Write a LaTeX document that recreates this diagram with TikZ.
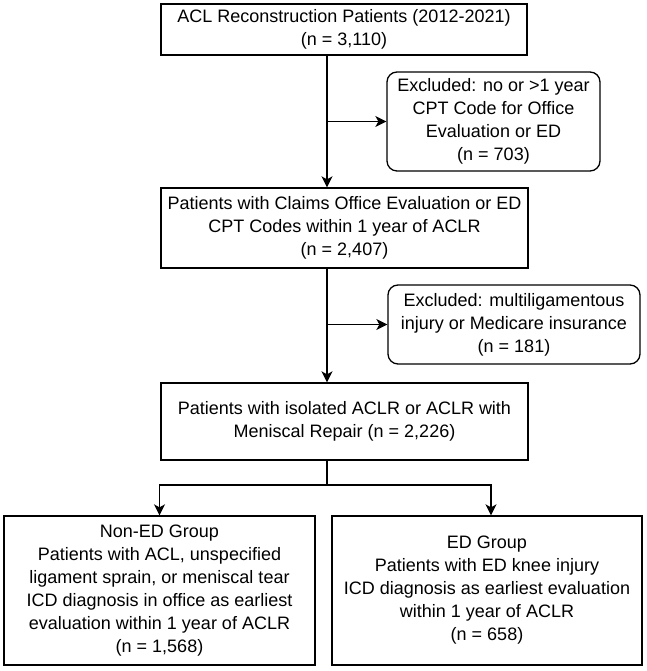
\documentclass[tikz,border=0pt]{standalone}
\usepackage{fontspec}
\setmainfont{Liberation Sans}
\usetikzlibrary{arrows.meta}

\begin{document}
\begin{tikzpicture}[x=1pt,y=1pt,
   box/.style={draw,line width=1.3pt,align=center,inner sep=0pt,
     font=\fontsize{18}{23}\selectfont},
   excl/.style={box,rounded corners=10pt},
   freccia/.style={line width=1.3pt,-{Stealth[length=11pt,width=11pt,inset=3pt]}}]
\useasboundingbox (0,0) rectangle (646,671);
% riquadri principali
   \node[box,minimum width=366,minimum height=51] (tot) at (344,641.5)
   {ACL Reconstruction Patients (2012-2021)\\(n = 3,110)};
   \node[box,minimum width=367,minimum height=80] (cpt) at (344.5,443)
   {Patients with Claims Office Evaluation or ED\\CPT Codes within 1 year of ACLR\\(n = 2,407)};
   \node[box,minimum width=367,minimum height=77] (iso) at (344.5,249.5)
   {Patients with isolated ACLR or ACLR with\\Meniscal Repair (n = 2,226)};
% esclusi
   \node[excl,minimum width=213,minimum height=99] (exa) at (493.5,549.5)
   {Excluded: no or >1 year\\CPT Code for Office\\Evaluation or ED\\(n = 703)};
   \node[excl,minimum width=252,minimum height=79] (exb) at (514,346.5)
   {Excluded: multiligamentous\\injury or Medicare insurance\\(n = 181)};
% gruppi
   \node[box,minimum width=311,minimum height=149] (noned) at (159.5,80.5)
   {Non-ED Group\\Patients with ACL, unspecified\\ligament sprain, or meniscal tear\\ICD diagnosis in office as earliest\\evaluation within 1 year of ACLR\\(n = 1,568)};
   \node[box,minimum width=310,minimum height=149] (ed) at (487,80.5)
   {ED Group\\Patients with ED knee injury\\ICD diagnosis as earliest evaluation\\within 1 year of ACLR\\(n = 658)};
% frecce
   \coordinate (asse) at (327,0); \coordinate (bivio) at (327,186);
   \draw[freccia] (tot.south -| asse) -- (cpt.north -| asse);
   \draw[freccia] (exa.west -| asse) -- (exa.west);
   \draw[freccia] (cpt.south -| asse) -- (iso.north -| asse);
   \draw[freccia] (exb.west -| asse) -- (exb.west);
   \draw[line width=1.3pt] (iso.south -| asse) -- (bivio);
   \draw[freccia] (bivio) -| (noned.north);
   \draw[freccia] (bivio) -| ([xshift=4pt]ed.north);
\end{tikzpicture}
\end{document}
